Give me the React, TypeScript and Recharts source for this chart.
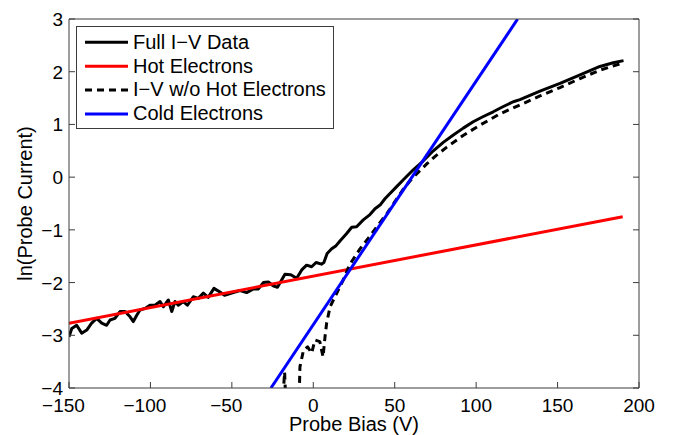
import { LineChart, Line, XAxis, YAxis, Legend } from 'recharts';

const FONT = '"Liberation Sans", Arial, Helvetica, sans-serif';
const AXIS = '#3c3c3c';
const TICK_FS = 19;
const LABEL_FS = 20;

const xTicks = [-150, -100, -50, 0, 50, 100, 150, 200];
const yTicks = [-4, -3, -2, -1, 0, 1, 2, 3];

// Full I-V trace (probe bias in V, ln of probe current)
const fullBias = [
  -150, -148.3, -145.3, -142.2, -139.1, -136.1, -133, -129.9, -126.9, -124.8,
  -121.8, -118.7, -115.6, -112.5, -110.5, -108.4, -106.4, -103.3, -100.3, -97.2,
  -94.1, -92.1, -89, -86.9, -84.9, -82.9, -79.8, -77.3, -73.7, -70.6,
  -67.5, -64.5, -61, -57.3, -54.5, -49.1, -45, -40.9, -36.8, -33.7,
  -30.7, -27.6, -24.6, -22, -17.4, -13.8, -10.2, -7.1, -4.1, -1,
  1.7, 5, 6.5, 8.5, 11.3, 14, 16.4, 20.5, 23.6, 26.6,
  30.7, 34.8, 37.9, 41, 44, 47.1, 51.2, 55.3, 61.4, 67.6,
  73.7, 79.8, 86, 92.1, 98.2, 104.4, 110.5, 116.7, 122.8, 126.9,
  139.2, 151.5, 163.8, 176, 184.2, 190.5,
];
const fullLnI = [
  -3.03, -2.87, -2.81, -2.96, -2.9, -2.77, -2.68, -2.77, -2.81, -2.71,
  -2.68, -2.55, -2.55, -2.65, -2.74, -2.62, -2.52, -2.49, -2.43, -2.43,
  -2.36, -2.46, -2.33, -2.55, -2.36, -2.43, -2.36, -2.43, -2.27, -2.3,
  -2.2, -2.28, -2.11, -2.18, -2.24, -2.19, -2.15, -2.19, -2.12, -2.12,
  -2.0, -1.99, -2.06, -2.09, -1.84, -1.85, -1.92, -1.76, -1.67, -1.7,
  -1.62, -1.65, -1.62, -1.45, -1.36, -1.3, -1.21, -1.07, -0.95, -0.94,
  -0.81, -0.71, -0.6, -0.53, -0.41, -0.31, -0.18, -0.05, 0.14, 0.31,
  0.5, 0.66, 0.8, 0.93, 1.05, 1.15, 1.24, 1.34, 1.43, 1.47,
  1.63, 1.78, 1.94, 2.1, 2.17, 2.21,
];

// Hot electron fit
const hotBias = [-150, 190];
const hotLnI = [-2.77, -0.75];

// I-V with hot electrons removed
const coldOnlyBias = [
  -19.5, -17.6, -16.5, -9, -8.2, -6, -3.5, -1, 1, 4,
  6, 7.2, 8.2, 10.3, 13.3, 15.4, 18.4, 21.5, 23.6, 28.7,
  34.8, 40, 45, 50, 55, 60, 65, 70, 75, 82,
  92, 102, 114.6, 126.9, 139.2, 151.5, 163.8, 176, 190.5,
];
const coldOnlyLnI = [
  -4.6, -3.7, -4.6, -4.6, -3.6, -3.28, -3.22, -3.34, -3.09, -3.12,
  -3.41, -3.03, -2.77, -2.46, -2.27, -2.14, -1.95, -1.72, -1.6, -1.36,
  -1.12, -0.9, -0.7, -0.47, -0.24, -0.05, 0.11, 0.26, 0.4, 0.57,
  0.79, 0.98, 1.2, 1.37, 1.54, 1.7, 1.87, 2.03, 2.17,
];

// Cold electron fit
const coldBias = [-26, 125.5];
const coldLnI = [-4, 3];

const toRows = (xs: number[], ys: number[]) => xs.map((x, i) => ({ bias: x, lnI: ys[i] }));

const fmt = (v: number) => (v < 0 ? '\u2212' + Math.abs(v) : String(v));

function BottomTick({ x, y, payload }: any) {
  const v = payload.value;
  const digits = String(Math.abs(v)).length;
  // digits centred on the tick, minus sign hanging to the left
  const right = x + (digits * 0.556 * TICK_FS) / 2;
  return (
    <g>
      <line x1={x} x2={x} y1={y} y2={y - 6} stroke={AXIS} />
      <text x={right} y={y + 23.5} textAnchor="end" fontSize={TICK_FS} fontFamily={FONT} fill="#000">
        {fmt(v)}
      </text>
    </g>
  );
}

function LeftTick({ x, y, payload }: any) {
  return (
    <g>
      <line x1={x} x2={x + 6} y1={y} y2={y} stroke={AXIS} />
      <text x={x - 6} y={y + 7} textAnchor="end" fontSize={TICK_FS} fontFamily={FONT} fill="#000">
        {fmt(payload.value)}
      </text>
    </g>
  );
}

function TopTick({ x, y }: any) {
  return <line x1={x} x2={x} y1={y} y2={y + 6} stroke={AXIS} />;
}

function RightTick({ x, y }: any) {
  return <line x1={x} x2={x - 6} y1={y} y2={y} stroke={AXIS} />;
}

function XTitle(props: any) {
  const vb = props.viewBox;
  return (
    <text x={vb.x + vb.width / 2} y={vb.y + 42.5} textAnchor="middle" fontSize={LABEL_FS} fontFamily={FONT} fill="#000">
      Probe Bias (V)
    </text>
  );
}

function YTitle(props: any) {
  const vb = props.viewBox;
  const cx = vb.x + 32;
  const cy = vb.y + vb.height / 2;
  return (
    <text
      x={cx}
      y={cy}
      transform={`rotate(-90, ${cx}, ${cy})`}
      textAnchor="middle"
      fontSize={LABEL_FS}
      fontFamily={FONT}
      fill="#000"
    >
      ln(Probe Current)
    </text>
  );
}

const legendItems = [
  { name: 'Full I\u2212V Data', color: '#000000', dash: undefined },
  { name: 'Hot Electrons', color: '#ff0000', dash: undefined },
  { name: 'I\u2212V w/o Hot Electrons', color: '#000000', dash: '7 5' },
  { name: 'Cold Electrons', color: '#0000ff', dash: undefined },
];

function LegendBox() {
  return (
    <svg width={258} height={103} style={{ display: 'block' }}>
      <rect x={0.5} y={0.5} width={257} height={102} fill="#fff" stroke={AXIS} />
      {legendItems.map((item, i) => {
        const cy = 16.3 + i * 23.9;
        return (
          <g key={item.name}>
            <line x1={9} x2={52} y1={cy} y2={cy} stroke={item.color} strokeWidth={3} strokeDasharray={item.dash} />
            <text x={57} y={cy + 6.3} fontSize={LABEL_FS} fontFamily={FONT} fill="#000">
              {item.name}
            </text>
          </g>
        );
      })}
    </svg>
  );
}

export default function App() {
  return (
    <div style={{ position: 'absolute', left: 0, top: 0, width: 673, height: 435, background: '#fff' }}>
      <LineChart width={673} height={435} margin={{ top: 18, right: 33, bottom: 0, left: 0 }}>
        <XAxis
          dataKey="bias"
          type="number"
          domain={[-150, 200]}
          ticks={xTicks}
          interval={0}
          allowDataOverflow
          height={47}
          tickSize={0}
          tickMargin={0}
          tickLine={false}
          axisLine={{ stroke: AXIS }}
          tick={(p: any) => <BottomTick {...p} />}
          label={(p: any) => <XTitle {...p} />}
        />
        <XAxis
          xAxisId="top"
          orientation="top"
          type="number"
          domain={[-150, 200]}
          ticks={xTicks}
          interval={0}
          allowDataOverflow
          height={1}
          tickSize={0}
          tickMargin={0}
          tickLine={false}
          axisLine={{ stroke: AXIS }}
          tick={(p: any) => <TopTick {...p} />}
        />
        <YAxis
          type="number"
          domain={[-4, 3]}
          ticks={yTicks}
          interval={0}
          allowDataOverflow
          width={69}
          tickSize={0}
          tickMargin={0}
          tickLine={false}
          axisLine={{ stroke: AXIS }}
          tick={(p: any) => <LeftTick {...p} />}
          label={(p: any) => <YTitle {...p} />}
        />
        <YAxis
          yAxisId="right"
          orientation="right"
          type="number"
          domain={[-4, 3]}
          ticks={yTicks}
          interval={0}
          allowDataOverflow
          width={1}
          tickSize={0}
          tickMargin={0}
          tickLine={false}
          axisLine={{ stroke: AXIS }}
          tick={(p: any) => <RightTick {...p} />}
        />
        <Line
          data={toRows(fullBias, fullLnI)}
          dataKey="lnI"
          name="Full I-V Data"
          stroke="#000000"
          strokeWidth={3}
          dot={false}
          activeDot={false}
          strokeLinejoin="round"
          isAnimationActive={false}
        />
        <Line
          data={toRows(hotBias, hotLnI)}
          dataKey="lnI"
          name="Hot Electrons"
          stroke="#ff0000"
          strokeWidth={3}
          dot={false}
          activeDot={false}
          isAnimationActive={false}
        />
        <Line
          data={toRows(coldOnlyBias, coldOnlyLnI)}
          dataKey="lnI"
          name="I-V w/o Hot Electrons"
          stroke="#000000"
          strokeWidth={3}
          strokeDasharray="7 5"
          dot={false}
          activeDot={false}
          strokeLinejoin="round"
          isAnimationActive={false}
        />
        <Line
          data={toRows(coldBias, coldLnI)}
          dataKey="lnI"
          name="Cold Electrons"
          stroke="#0000ff"
          strokeWidth={3}
          dot={false}
          activeDot={false}
          isAnimationActive={false}
        />
        <Legend
          layout="vertical"
          align="center"
          verticalAlign="middle"
          wrapperStyle={{ left: 76, top: 26, width: 258, height: 103 }}
          content={() => <LegendBox />}
        />
      </LineChart>
    </div>
  );
}
